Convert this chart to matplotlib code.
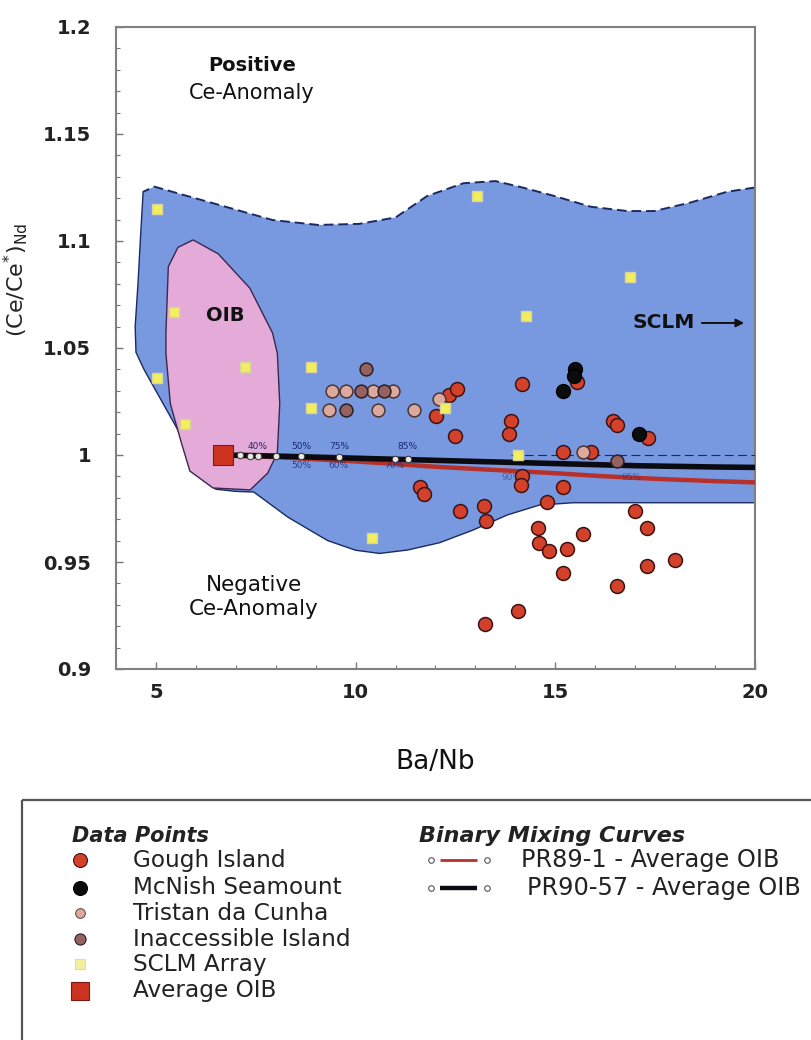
import numpy as np
import matplotlib.pyplot as plt
from matplotlib.patches import Rectangle
from matplotlib.ticker import MultipleLocator

plt.rcParams['font.family'] = ['DejaVu Sans']

# --- sample data (Ba/Nb, (Ce/Ce*)Nd) ---
gough_x = [11.62, 11.70, 12.02, 12.35, 12.55, 12.49, 12.62, 13.22, 13.26, 13.23,
           13.88, 13.83, 14.16, 14.16, 14.14, 14.06, 14.57, 14.60, 14.85, 14.80,
           15.20, 15.20, 15.30, 15.20, 15.55, 15.70, 15.90, 16.45, 16.55, 16.55,
           17.00, 17.30, 17.33, 17.30, 18.00]
gough_y = [0.985, 0.982, 1.018, 1.028, 1.031, 1.009, 0.974, 0.976, 0.969, 0.921,
           1.016, 1.010, 1.033, 0.990, 0.986, 0.927, 0.966, 0.959, 0.955, 0.978,
           0.985, 1.0015, 0.956, 0.945, 1.034, 0.963, 1.0015, 1.016, 1.014, 0.939,
           0.974, 0.966, 1.008, 0.948, 0.951]

mcnish_x = [15.49, 15.47, 15.18, 17.09]
mcnish_y = [1.040, 1.037, 1.030, 1.010]

tristan_x = [9.40, 9.75, 10.43, 10.94, 9.34, 10.57, 11.45, 12.10, 15.70]
tristan_y = [1.030, 1.030, 1.030, 1.030, 1.021, 1.021, 1.021, 1.026, 1.0015]

inacc_x = [10.26, 10.14, 10.71, 9.75, 16.54]
inacc_y = [1.040, 1.030, 1.030, 1.021, 0.997]

sclm_x = [5.02, 5.02, 5.44, 5.74, 7.24, 8.89, 8.89, 10.40, 12.25, 13.05, 14.07, 14.27, 16.86]
sclm_y = [1.115, 1.036, 1.067, 1.0145, 1.041, 1.041, 1.022, 0.961, 1.022, 1.121, 1.000, 1.065, 1.083]

avg_oib_x = [6.67]
avg_oib_y = [1.000]

# --- binary mixing curves ---
mix_x = [6.67, 8, 9, 10, 11, 12, 13, 14, 15, 16, 17, 18, 19, 20]
pr89_y = [1.0, 0.999, 0.998, 0.997, 0.9958, 0.9945, 0.9935, 0.9925, 0.9915,
          0.9903, 0.9893, 0.9885, 0.9878, 0.9872]
pr90_y = [1.0, 0.9995, 0.999, 0.9985, 0.998, 0.9975, 0.997, 0.9965, 0.996,
          0.9955, 0.995, 0.9947, 0.9944, 0.9942]
tick_x = [6.81, 7.10, 7.35, 7.56, 8.0, 8.63, 9.58, 10.98, 11.30]
tick_y = [0.9999, 0.9998, 0.9997, 0.9996, 0.9995, 0.9993, 0.9990, 0.9983, 0.9982]
pct_above = [('40%', 7.55), ('50%', 8.63), ('75%', 9.58), ('85%', 11.30)]
pct_below = [('50%', 8.63), ('60%', 9.58), ('70%', 10.98), ('90%', 13.9), ('95%', 16.9)]

# --- compositional fields ---
sclm_top_x = [20.0, 19.30, 18.39, 17.48, 16.80, 15.89, 14.98, 14.18, 13.50, 12.70,
              11.79, 11.00, 10.09, 9.06, 7.92, 6.44, 5.60, 4.96, 4.68]
sclm_top_y = [1.125, 1.123, 1.118, 1.114, 1.114, 1.116, 1.121, 1.125, 1.128, 1.127,
              1.121, 1.111, 1.108, 1.1075, 1.1098, 1.1176, 1.122, 1.1254, 1.123]
sclm_low_x = [4.68, 4.62, 4.55, 4.48, 4.50, 4.70, 5.00, 5.30, 5.60, 5.90, 6.20,
              6.50, 7.00, 7.45, 8.30, 9.30, 10.00, 10.60, 11.30, 12.10, 12.95,
              13.80, 14.60, 15.45, 20.0]
sclm_low_y = [1.123, 1.104, 1.080, 1.060, 1.048, 1.040, 1.030, 1.020, 1.010, 0.998,
              0.988, 0.984, 0.983, 0.9827, 0.971, 0.960, 0.9555, 0.954, 0.9556,
              0.959, 0.965, 0.972, 0.9766, 0.9777, 0.9777]
oib_x = [5.93, 6.56, 7.35, 7.92, 8.04, 8.10, 8.04, 7.80, 7.36, 6.43, 5.85, 5.64,
         5.36, 5.25, 5.25, 5.31, 5.55, 5.93]
oib_y = [1.1005, 1.094, 1.078, 1.057, 1.0475, 1.024, 1.001, 0.9916, 0.9837, 0.9846,
         0.9925, 1.0055, 1.024, 1.0475, 1.057, 1.088, 1.097, 1.1005]

ytick_vals = [0.9, 0.95, 1.0, 1.05, 1.1, 1.15, 1.2]
ytick_labels = ['0.9', '0.95', '1', '1.05', '1.1', '1.15', '1.2']
xtick_vals = [5, 10, 15, 20]

W, H = 812, 1040
fig = plt.figure(figsize=(W / 100, H / 100), dpi=100)
ax = fig.add_axes([116 / W, 1 - 669 / H, (755 - 116) / W, (669 - 27) / H])
ax.set_xlim(4, 20)
ax.set_ylim(0.9, 1.2)

blue = '#7898e0'
pink = '#e4aad8'
ax.fill(sclm_top_x + sclm_low_x, sclm_top_y + sclm_low_y, color=blue, lw=0, zorder=1)
ax.plot(sclm_top_x, sclm_top_y, color='#1c2a60', lw=1.4, ls=(0, (5, 2.5)), zorder=2)
ax.plot(sclm_low_x, sclm_low_y, color='#1c2a60', lw=1.0, zorder=2)
ax.fill(oib_x, oib_y, color=pink, ec='#3a2850', lw=1.0, zorder=2)

# reference line at (Ce/Ce*)Nd = 1
ax.hlines(1.0, 13.9, 20, color='#1c2a60', lw=0.8, ls=(0, (8, 4)), zorder=3)

ax.plot(mix_x, pr89_y, color='#b8302a', lw=3.2, zorder=4, solid_capstyle='butt')
ax.plot(mix_x, pr90_y, color='#0a0a10', lw=4.0, zorder=4, solid_capstyle='butt')
ax.scatter(tick_x, tick_y, s=22, c='#e8e8e0', edgecolors='#333', linewidths=0.7, zorder=5)
for lab, x in pct_above:
    ax.text(x, 1.0038, lab, fontsize=6.5, color='#1c2a70', ha='center', va='center', zorder=5)
for lab, x in pct_below:
    ax.text(x, 0.9952 if x < 12 else 0.9895, lab, fontsize=6.5, color='#1c2a70',
            ha='center', va='center', zorder=5, alpha=0.8 if x < 12 else 0.5)

gough_c, gough_e = '#d4412b', '#3a1414'
mcnish_c = '#0c0c0c'
tristan_c, tristan_e = '#dcaa9c', '#4a3434'
inacc_c, inacc_e = '#946260', '#2e1e1e'
sclm_c, sclm_e = '#f2ee5c', '#d8d49a'
avg_c = '#cc3420'

ax.scatter(gough_x, gough_y, s=100, c=gough_c, edgecolors=gough_e, linewidths=1.1, zorder=6)
ax.scatter(tristan_x, tristan_y, s=85, c=tristan_c, edgecolors=tristan_e, linewidths=1.1, zorder=6)
ax.scatter(inacc_x, inacc_y, s=85, c=inacc_c, edgecolors=inacc_e, linewidths=1.1, zorder=6)
ax.scatter(mcnish_x, mcnish_y, s=100, c=mcnish_c, edgecolors='#000', linewidths=1.0, zorder=7)
ax.scatter(sclm_x, sclm_y, s=45, marker='s', c=sclm_c, edgecolors=sclm_e, linewidths=1.0, zorder=7)
ax.scatter(avg_oib_x, avg_oib_y, s=200, marker='s', c=avg_c, edgecolors='#7a1a10',
           linewidths=0.8, zorder=8)

ax.text(7.4, 1.1822, 'Positive', fontsize=14, fontweight='bold', ha='center', va='center',
        color='#111')
ax.text(7.4, 1.1692, 'Ce-Anomaly', fontsize=15, ha='center', va='center', color='#111')
ax.text(7.45, 0.9336, 'Negative\nCe-Anomaly', fontsize=15.5, ha='center', va='center',
        linespacing=1.3, color='#111')
ax.text(6.73, 1.0654, 'OIB', fontsize=14, fontweight='bold', ha='center', va='center',
        color='#111')
ax.annotate('', xy=(19.8, 1.0617), xytext=(18.6, 1.0617),
            arrowprops=dict(arrowstyle='-|>', color='#111', lw=1.4, mutation_scale=12))
ax.text(18.5, 1.0617, 'SCLM', fontsize=14.5, fontweight='bold', ha='right', va='center',
        color='#111')

for sp in ax.spines.values():
    sp.set_color('#808080')
    sp.set_linewidth(1.5)
ax.set_yticks(ytick_vals)
ax.set_yticklabels(ytick_labels)
ax.set_xticks(xtick_vals)
ax.xaxis.set_minor_locator(MultipleLocator(1))
ax.yaxis.set_minor_locator(MultipleLocator(0.01))
ax.tick_params(which='both', direction='in', color='#777', top=False, right=False)
ax.tick_params(which='major', length=5, width=1)
ax.tick_params(which='minor', length=3, width=0.8)
ax.tick_params(axis='y', which='major', pad=18, labelsize=14)
ax.tick_params(axis='x', which='major', pad=10, labelsize=14)
for lab in ax.get_xticklabels() + ax.get_yticklabels():
    lab.set_fontweight('bold')
    lab.set_color('#222')

ax.set_xlabel('Ba/Nb', fontsize=19, color='#111')
ax.xaxis.set_label_coords(0.5, -0.124)
ax.set_ylabel(r'(Ce/Ce$^{*}$)$_{\mathrm{Nd}}$', fontsize=16, color='#222')
ax.yaxis.set_label_coords(-0.135, 0.606)

# legend panel drawn in pixel space
lg = fig.add_axes([0, 0, 1, 1], zorder=-1)
lg.set_xlim(0, W)
lg.set_ylim(H, 0)
lg.axis('off')
lg.add_patch(Rectangle((22, 800), 820, 260, fill=False, ec='#555', lw=1.6))

lg.text(72, 836, 'Data Points', fontsize=15, fontweight='bold', fontstyle='italic',
        va='center', color='#222')
rows = [
    ('Gough Island', 'o', 10, gough_c, gough_e),
    ('McNish Seamount', 'o', 10, mcnish_c, '#000'),
    ('Tristan da Cunha', 'o', 7, tristan_c, '#6a5050'),
    ('Inaccessible Island', 'o', 8, inacc_c, inacc_e),
    ('SCLM Array', 's', 7, '#f2f0a0', '#e0dca8'),
    ('Average OIB', 's', 13, avg_c, '#7a1a10'),
]
row_y = [860, 888, 913, 939, 964, 991]
for (lab, m, ms, fc, ec), y in zip(rows, row_y):
    lg.plot([80], [y], marker=m, ms=ms, mfc=fc, mec=ec, mew=0.8, ls='none')
    lg.text(133, y, lab, fontsize=16.7, va='center', color='#222')

lg.text(419, 836, 'Binary Mixing Curves', fontsize=16, fontweight='bold',
        fontstyle='italic', va='center', color='#222')
curves = [('PR89-1 - Average OIB', 521, '#b8302a', 2.0),
          ('PR90-57 - Average OIB', 527, '#0a0a10', 3.2)]
for (lab, tx, c, lw), y in zip(curves, row_y[:2]):
    lg.plot([440, 477], [y, y], color=c, lw=lw, solid_capstyle='butt')
    lg.plot([431, 487], [y, y], marker='o', ms=4, mfc='white', mec='#555', mew=0.8, ls='none')
    lg.text(tx, y, lab, fontsize=17.3, va='center', color='#222')

fig.savefig('out.png', dpi=100)
